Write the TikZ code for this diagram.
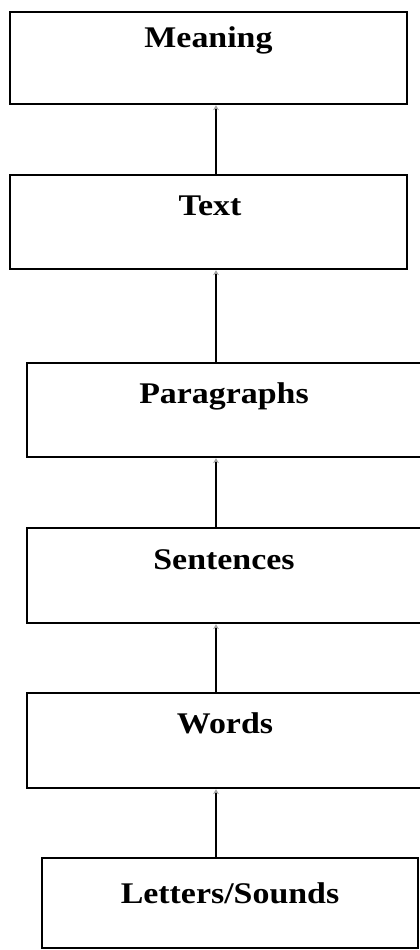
\documentclass[tikz,border=0pt]{standalone}
\usepackage{fontspec}
\setmainfont{Liberation Serif}[FakeStretch=1.13]
\usetikzlibrary{arrows.meta}
\tikzset{
  level/.style={draw=black, line width=2.4pt, rectangle, inner sep=0pt},
  lbl/.style={anchor=base, inner sep=0pt, font=\fontsize{30}{32}\selectfont\bfseries},
  link/.style={draw=black, line width=2pt, -{Stealth[length=5pt,width=6pt,black!35]}}
}
\begin{document}
\begin{tikzpicture}[x=1pt,y=-1pt]
  \useasboundingbox (0,0) rectangle (420,950);
  \clip (0,0) rectangle (420,950);
  % boxes of the hierarchy, top to bottom
  \node[level, minimum width=397pt, minimum height=92pt] (meaning) at (208.5,58) {};
  \node[level, minimum width=397pt, minimum height=94pt] (text) at (208.5,222) {};
  \node[level, minimum width=394pt, minimum height=94pt] (para) at (224,410) {};
  \node[level, minimum width=394pt, minimum height=95pt] (sent) at (224,575.5) {};
  \node[level, minimum width=394pt, minimum height=95pt] (words) at (224,740.5) {};
  \node[level, minimum width=376pt, minimum height=90pt] (letters) at (230,903) {};
  % labels near the top of each box
  \node[lbl] (tmeaning) at (208.5,48) {Meaning};
  \node[lbl] (ttext) at (210,215) {Text};
  \node[lbl] (tpara) at (224,403) {Paragraphs};
  \node[lbl] (tsent) at (224,569) {Sentences};
  \node[lbl] (twords) at (225,733) {Words};
  \node[lbl] (tletters) at (230,903) {Letters/Sounds};
  % upward connectors
  \draw[link] (letters.north -| 216,0) -- (words.south -| 216,0);
  \draw[link] (words.north -| 216,0) -- (sent.south -| 216,0);
  \draw[link] (sent.north -| 216,0) -- (para.south -| 216,0);
  \draw[link] (para.north -| 216,0) -- (text.south -| 216,0);
  \draw[link] (text.north -| 216,0) -- (meaning.south -| 216,0);
\end{tikzpicture}
\end{document}
